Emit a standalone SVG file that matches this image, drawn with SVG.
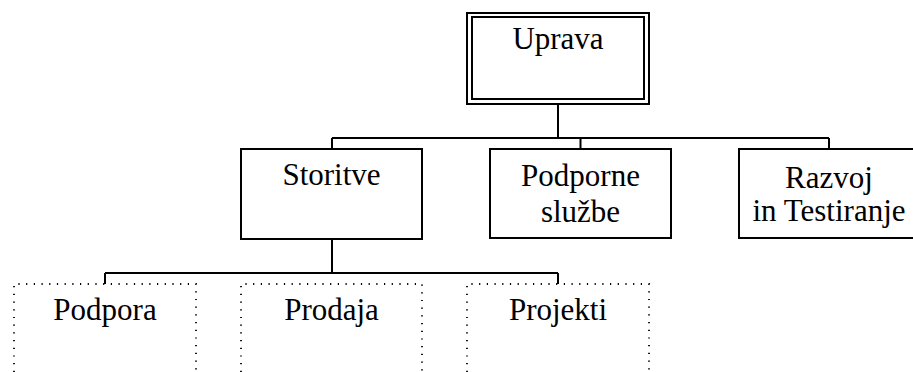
<svg xmlns="http://www.w3.org/2000/svg" width="913" height="372" viewBox="0 0 913 372">
  <style>
    .box { fill: #ffffff; stroke: #000000; stroke-width: 2; }
    .dot { fill: none; stroke: #000000; stroke-width: 1.8; stroke-dasharray: 1.2 6.5; }
    .wire { fill: none; stroke: #000000; stroke-width: 2; }
  </style>
  <rect width="913" height="372" fill="#ffffff"/>

  <!-- connectors -->
  <g id="connectors">
    <path class="wire" d="M558 104 V138 M332 138 H829 M332 138 V149 M580.5 138 V149 M829 138 V149"/>
    <path class="wire" d="M332 239 V273 M105 273 H558 M105 273 V284 M558 273 V284"/>
  </g>

  <!-- top level -->
  <g id="uprava">
    <rect class="box" x="467" y="13" width="182" height="91"/>
    <rect class="box" x="472" y="17" width="172" height="82"/>
    <text x="558" y="49" font-size="31" font-family="'Liberation Serif'" text-anchor="middle">Uprava</text>
  </g>

  <!-- second level -->
  <g id="storitve">
    <rect class="box" x="241" y="149" width="181" height="90"/>
    <text x="331.5" y="185" font-size="31" font-family="'Liberation Serif'" text-anchor="middle">Storitve</text>
  </g>
  <g id="podporne-sluzbe">
    <rect class="box" x="490" y="149" width="181" height="89"/>
    <text x="580.5" y="186" font-size="31" font-family="'Liberation Serif'" text-anchor="middle">Podporne</text>
    <text x="580.5" y="222" font-size="31" font-family="'Liberation Serif'" text-anchor="middle">službe</text>
  </g>
  <g id="razvoj">
    <rect class="box" x="739" y="149" width="181" height="89"/>
    <text x="829" y="188" font-size="31" font-family="'Liberation Serif'" text-anchor="middle">Razvoj</text>
    <text x="829" y="221" font-size="31" font-family="'Liberation Serif'" text-anchor="middle">in Testiranje</text>
  </g>

  <!-- third level (dotted) -->
  <g id="podpora">
    <path class="dot" d="M14 372 V284 H196 V372"/>
    <text x="105" y="320" font-size="31" font-family="'Liberation Serif'" text-anchor="middle">Podpora</text>
  </g>
  <g id="prodaja">
    <path class="dot" d="M241 372 V284 H422 V372"/>
    <text x="331.5" y="320" font-size="31" font-family="'Liberation Serif'" text-anchor="middle">Prodaja</text>
  </g>
  <g id="projekti">
    <path class="dot" d="M467 372 V284 H649 V372"/>
    <text x="558" y="320" font-size="31" font-family="'Liberation Serif'" text-anchor="middle">Projekti</text>
  </g>
</svg>
